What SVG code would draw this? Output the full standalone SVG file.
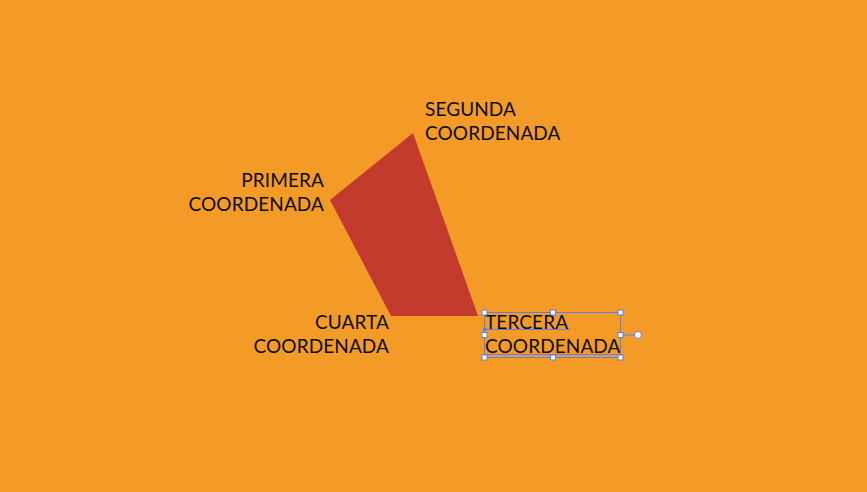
<svg xmlns="http://www.w3.org/2000/svg" width="867" height="492" viewBox="0 0 867 492">
<style>
.lbl{font-family:"Lato","Liberation Sans",sans-serif;font-size:19px;fill:#0d0d0d;letter-spacing:0.1px}
.r{text-anchor:end}
.sel{fill:none;stroke:#5b7ff0;stroke-width:1}
.h{fill:#fff;stroke:#5b7ff0;stroke-width:1}
</style>
<rect width="867" height="492" fill="#F39B26"/>
<g id="shape">
<polygon points="330,200 413,133 478,316 391,316" fill="#C23B2D"/>
</g>
<g id="primera">
<text class="lbl r" x="324" y="187">PRIMERA</text>
<text class="lbl r" x="324" y="211">COORDENADA</text>
</g>
<g id="segunda">
<text class="lbl" x="425" y="116">SEGUNDA</text>
<text class="lbl" x="425" y="140">COORDENADA</text>
</g>
<g id="cuarta">
<text class="lbl r" x="389" y="329">CUARTA</text>
<text class="lbl r" x="389" y="353">COORDENADA</text>
</g>
<g id="tercera">
<text class="lbl" x="485" y="329">TERCERA</text>
<text class="lbl" x="485" y="353">COORDENADA</text>
</g>
<g id="selection">
<line class="sel" x1="485" y1="329.5" x2="570" y2="329.5"/>
<line class="sel" x1="485" y1="354.5" x2="620" y2="354.5"/>
<rect class="sel" x="484.5" y="312.5" width="136" height="45"/>
<line class="sel" x1="620" y1="335" x2="634" y2="335"/>
<circle class="h" cx="638" cy="335" r="3.5"/>
<rect class="h" x="482" y="310" width="5" height="5"/>
<rect class="h" x="550.5" y="310" width="5" height="5"/>
<rect class="h" x="618" y="310" width="5" height="5"/>
<rect class="h" x="482" y="332.5" width="5" height="5"/>
<rect class="h" x="618" y="332.5" width="5" height="5"/>
<rect class="h" x="482" y="355" width="5" height="5"/>
<rect class="h" x="550.5" y="355" width="5" height="5"/>
<rect class="h" x="618" y="355" width="5" height="5"/>
<rect x="483" y="327.5" width="3.5" height="3.5" fill="#5b7ff0"/>
</g>
</svg>
